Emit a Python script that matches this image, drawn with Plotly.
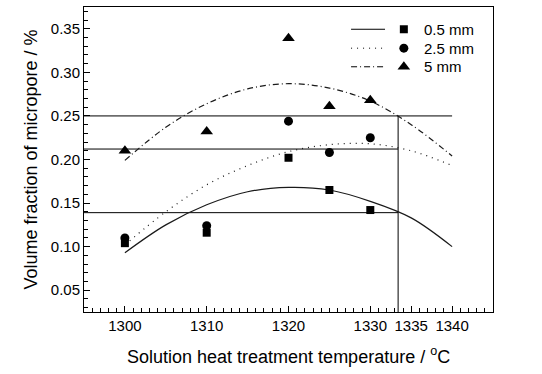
import plotly.graph_objects as go

# ---- data ----
temps = [1300, 1310, 1320, 1325, 1330]
frac_05 = [0.104, 0.116, 0.202, 0.165, 0.142]
frac_25 = [0.110, 0.124, 0.244, 0.208, 0.225]
frac_5 = [0.210, 0.232, 0.339, 0.261, 0.268]

fit_t = [1300, 1305, 1310, 1315, 1320, 1325, 1330, 1335, 1340]
fit_05 = [0.093, 0.125, 0.148, 0.163, 0.168, 0.165, 0.152, 0.133, 0.100]
fit_25 = [0.102, 0.140, 0.171, 0.193, 0.209, 0.217, 0.218, 0.210, 0.193]
fit_5 = [0.199, 0.237, 0.264, 0.281, 0.287, 0.282, 0.267, 0.240, 0.204]

# reference lines
t_crit = 1333.4
y_levels = [0.139, 0.212, 0.25]
line_ends = [t_crit, t_crit, 1340]
x_left = 1295

labels = ["0.5 mm", "2.5 mm", "5 mm"]
symbols = ["square", "circle", "triangle-up"]
dashes = ["solid", "1px,5px", "6px,3px,1px,3px"]
x_ticks = [1300, 1310, 1320, 1330, 1335, 1340]
y_ticks = [0.05, 0.10, 0.15, 0.20, 0.25, 0.30, 0.35]
y_ticktext = ["0.05", "0.10", "0.15", "0.20", "0.25", "0.30", "0.35"]

FONT = "Liberation Sans, Arial, sans-serif"

fig = go.Figure()

# reference lines
for yl, xe in zip(y_levels, line_ends):
    fig.add_trace(go.Scatter(x=[x_left, xe], y=[yl, yl], mode="lines",
                             line=dict(color="black", width=1), showlegend=False,
                             hoverinfo="skip"))
fig.add_trace(go.Scatter(x=[t_crit, t_crit], y=[0.025, y_levels[2]], mode="lines",
                         line=dict(color="black", width=1), showlegend=False,
                         hoverinfo="skip"))

# fitted curves
for ys, d in zip([fit_05, fit_25, fit_5], dashes):
    fig.add_trace(go.Scatter(x=fit_t, y=ys, mode="lines", line_shape="spline",
                             line=dict(color="#1a1a1a", width=1.2, dash=d),
                             showlegend=False))

# data points
msize = {"square": 8, "circle": 9, "triangle-up": 11}
for ys, s in zip([frac_05, frac_25, frac_5], symbols):
    fig.add_trace(go.Scatter(x=temps, y=ys, mode="markers",
                             marker=dict(symbol=s, size=msize[s], color="black"),
                             showlegend=False))

# manual legend
leg_y = [0.927, 0.865, 0.804]
for yy, lab, s, d in zip(leg_y, labels, symbols, dashes):
    fig.add_shape(type="line", xref="paper", yref="paper", x0=0.653, x1=0.736,
                  y0=yy, y1=yy, line=dict(color="black", width=1, dash=d))
    fig.add_trace(go.Scatter(x=[0.782], y=[yy], xaxis="x2", yaxis="y2", mode="markers",
                             marker=dict(symbol=s, size=msize[s], color="black"),
                             showlegend=False, hoverinfo="skip"))
    fig.add_annotation(x=0.826, y=yy, xref="paper", yref="paper", text=lab,
                       showarrow=False, xanchor="left", yanchor="middle",
                       font=dict(size=15, color="black", family=FONT))

# axis titles
fig.add_annotation(x=0.5, y=-0.143, xref="paper", yref="paper",
                   text="Solution heat treatment temperature / <sup>o</sup>C",
                   showarrow=False, xanchor="center", yanchor="middle",
                   font=dict(size=18, color="black", family=FONT))
fig.add_annotation(x=-0.132, y=0.5, xref="paper", yref="paper",
                   text="Volume fraction of micropore / %", textangle=-90,
                   showarrow=False, xanchor="center", yanchor="middle",
                   font=dict(size=18, color="black", family=FONT))

fig.update_layout(
    width=542, height=374,
    margin=dict(l=84, r=49, t=7, b=62, autoexpand=False),
    paper_bgcolor="white", plot_bgcolor="white",
    font=dict(family=FONT, size=15, color="black"),
    xaxis=dict(range=[1295, 1345], tickmode="array", tickvals=x_ticks,
               ticks="inside", ticklen=6, tickcolor="black",
               minor=dict(tick0=1300, dtick=1, ticks="inside", ticklen=4, tickcolor="black"),
               showline=True, linecolor="black", linewidth=1, mirror=True,
               showgrid=False, zeroline=False, automargin=False,
               tickfont=dict(size=15)),
    yaxis=dict(range=[0.025, 0.375], tickmode="array",
               tickvals=y_ticks, ticktext=y_ticktext,
               ticks="inside", ticklen=6, tickcolor="black",
               minor=dict(tick0=0.0, dtick=0.01, ticks="inside", ticklen=4, tickcolor="black"),
               showline=True, linecolor="black", linewidth=1, mirror=True,
               showgrid=False, zeroline=False, automargin=False,
               tickfont=dict(size=15)),
    xaxis2=dict(overlaying="x", range=[0, 1], visible=False),
    yaxis2=dict(overlaying="y", range=[0, 1], visible=False),
)

fig.write_html("out.html", config={"displayModeBar": False},
               post_script="document.body.style.margin='0';")
